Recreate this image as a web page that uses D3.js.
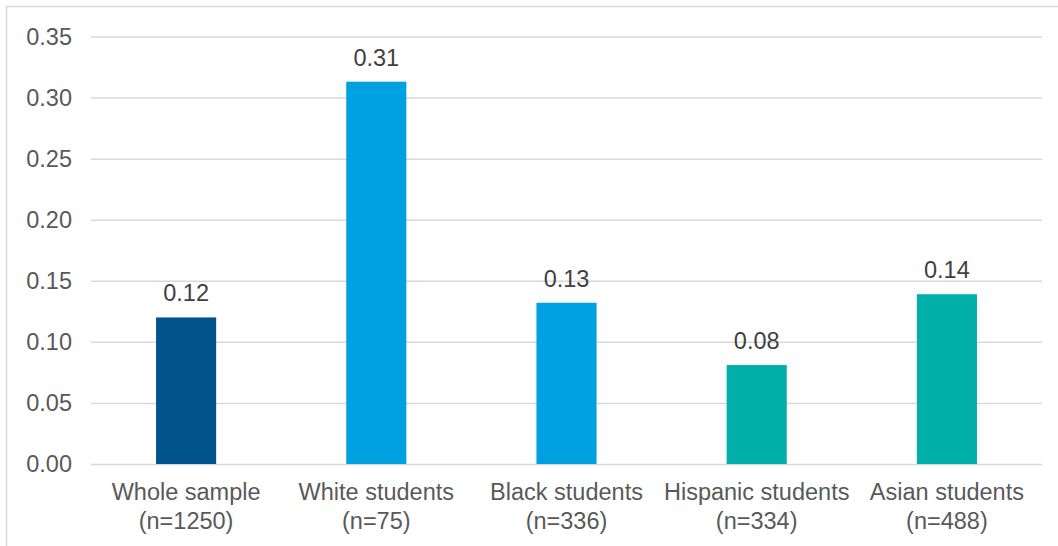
<!DOCTYPE html>
<html>
<head>
<meta charset="utf-8">
<script src="https://cdn.jsdelivr.net/npm/d3@7"></script>
<style>
  html, body { margin: 0; padding: 0; background: #fff; }
  svg { display: block; font-family: "Liberation Sans", Arial, sans-serif; }
</style>
</head>
<body>
<svg id="chart" width="1058" height="546"></svg>
<script>
const categories = ["Whole sample", "White students", "Black students", "Hispanic students", "Asian students"];
const sampleSizes = ["(n=1250)", "(n=75)", "(n=336)", "(n=334)", "(n=488)"];
const values = [0.12, 0.313, 0.132, 0.081, 0.139];
const valueLabels = ["0.12", "0.31", "0.13", "0.08", "0.14"];
const barColors = ["#00538B", "#00A1E0", "#00A1E0", "#00AFAA", "#00AFAA"];
const yTicks = [0, 0.05, 0.10, 0.15, 0.20, 0.25, 0.30, 0.35];

const svg = d3.select("#chart");
const W = 1058, H = 546;
const plot = { left: 91, right: 1042, top: 36.5, bottom: 464 };
const FS = "23.5px";

// outer chart border (top + left visible)
svg.append("rect")
  .attr("x", 6.5).attr("y", 6.5)
  .attr("width", W + 20).attr("height", H + 20)
  .attr("fill", "none").attr("stroke", "#D9D9D9").attr("stroke-width", 1.5);

const x = d3.scaleBand()
  .domain(categories)
  .range([plot.left, plot.right])
  .paddingInner(0.684)
  .paddingOuter(0.342);

const y = d3.scaleLinear().domain([0, 0.35]).range([plot.bottom, plot.top]);

// gridlines
const yAxis = d3.axisLeft(y).tickValues(yTicks).tickFormat(d3.format(".2f"))
  .tickSize(-(plot.right - plot.left)).tickPadding(19);
const gy = svg.append("g").attr("transform", `translate(${plot.left},0)`).call(yAxis);
gy.select(".domain").remove();
gy.selectAll(".tick line").attr("stroke", "#D9D9D9").attr("stroke-width", 1.5);
gy.selectAll(".tick text")
  .attr("fill", "#595959").style("font-size", FS)
  .style("font-family", "'Liberation Sans', Arial, sans-serif");

// bars
svg.append("g").selectAll("rect")
  .data(categories)
  .join("rect")
  .attr("x", d => x(d))
  .attr("width", x.bandwidth())
  .attr("y", (d, i) => y(values[i]))
  .attr("height", (d, i) => y(0) - y(values[i]))
  .attr("fill", (d, i) => barColors[i]);

// value labels
svg.append("g").selectAll("text")
  .data(categories)
  .join("text")
  .attr("x", d => x(d) + x.bandwidth() / 2)
  .attr("y", (d, i) => y(values[i]) - 16)
  .attr("text-anchor", "middle")
  .attr("fill", "#404040")
  .style("font-size", FS)
  .text((d, i) => valueLabels[i]);

// category labels
const xl = svg.append("g").selectAll("text")
  .data(categories)
  .join("text")
  .attr("text-anchor", "middle")
  .attr("fill", "#595959")
  .style("font-size", FS);
xl.append("tspan")
  .attr("x", d => x(d) + x.bandwidth() / 2)
  .attr("y", 500)
  .text(d => d);
xl.append("tspan")
  .attr("x", d => x(d) + x.bandwidth() / 2)
  .attr("y", 529)
  .text((d, i) => sampleSizes[i]);
</script>
</body>
</html>
